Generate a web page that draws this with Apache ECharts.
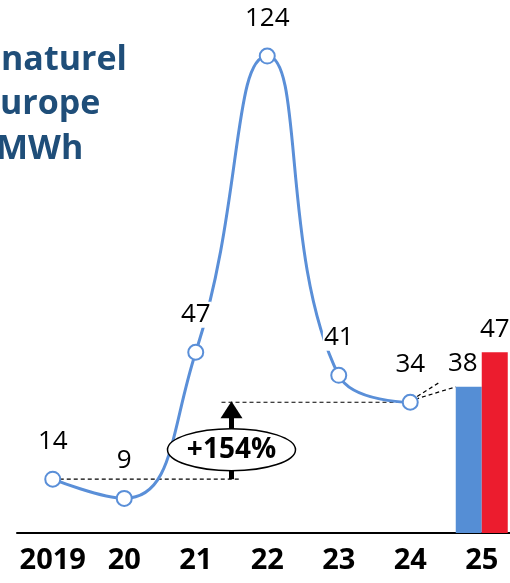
<!DOCTYPE html>
<html>
<head>
<meta charset="utf-8">
<script src="https://cdn.jsdelivr.net/npm/echarts@6/dist/echarts.min.js"></script>
<style>
  html, body { margin: 0; padding: 0; background: #fff; }
  #chart { width: 510px; height: 583px; }
</style>
</head>
<body>
<div id="chart"></div>
<script>
// Prix du gaz naturel en Europe (€/MWh)
const years = ['2019', '20', '21', '22', '23', '24', '25'];
const prices = [14, 9, 47, 124, 41, 34, null];
const forecastLow = [null, null, null, null, null, null, 38];
const forecastHigh = [null, null, null, null, null, null, 47];
const titleLines = ['naturel', 'urope', 'MWh'];
const changeLabel = '+154%';

const lineBlue = '#5a8fd8';
const barBlue = '#558ed5';
const barRed = '#ec1c2e';
const font = '"Open Sans", "Liberation Sans", sans-serif';

const toData = arr => arr.map(v => (v == null ? '-' : v));

const chart = echarts.init(document.getElementById('chart'));

const option = {
	animation: false,
	grid: { left: 17, right: -7.5, top: 33, bottom: 50, outerBoundsMode: 'none', containLabel: false },
	xAxis: {
		type: 'category',
		data: years,
		axisLine: { lineStyle: { color: '#000', width: 2 } },
		axisTick: { show: false },
		axisLabel: {
			interval: 0,
			color: '#000',
			fontFamily: font,
			fontWeight: 'bold',
			fontSize: 29,
			margin: 13
		}
	},
	yAxis: {
		type: 'value',
		min: 0,
		max: 130,
		show: false,
		splitLine: { show: false }
	},
	series: [
		{
			type: 'line',
			data: toData(prices),
			smooth: 0.5,
			symbol: 'circle',
			symbolSize: 15,
			itemStyle: { color: '#fff', borderColor: lineBlue, borderWidth: 2 },
			lineStyle: { color: lineBlue, width: 3 },
			label: {
				show: true,
				position: 'top',
				distance: 16,
				color: '#000',
				fontFamily: font,
				fontSize: 26,
				backgroundColor: '#fff',
				padding: [0, 1]
			},
			z: 3
		},
		{
			type: 'bar',
			data: toData(forecastLow),
			barWidth: 26,
			barGap: '0%',
			itemStyle: { color: barBlue },
			label: {
				show: true,
				position: 'top',
				distance: 10,
				offset: [-6, 0],
				color: '#000',
				fontFamily: font,
				fontSize: 26
			}
		},
		{
			type: 'bar',
			data: toData(forecastHigh),
			barWidth: 26,
			itemStyle: { color: barRed },
			label: {
				show: true,
				position: 'top',
				distance: 10,
				color: '#000',
				fontFamily: font,
				fontSize: 26
			}
		}
	]
};

chart.setOption(option);

// annotations placed from the chart's own scale
const px = (i, v) => chart.convertToPixel({ seriesIndex: 0 }, [i, v]);
const pStart = px(0, prices[0]);
const pEnd = px(5, prices[5]);
const mid2 = px(2, prices[0]);
const mid3 = px(3, prices[0]);
const ax = (mid2[0] + mid3[0]) / 2;
const yLow = pStart[1];
const yHigh = pEnd[1];
const pBar = chart.convertToPixel({ seriesIndex: 1 }, [6, forecastLow[6]]);

const dash = { stroke: '#000', lineWidth: 1.2, lineDash: [4, 3] };
const ellCy = (yLow + yHigh) / 2 + 9;

const graphic = [];

titleLines.forEach((t, k) => {
	graphic.push({
		type: 'text',
		x: [1, 0, -4][k],
		y: 60 + k * 44.5,
		style: {
			text: t,
			font: 'bold 34px ' + font,
			fill: '#1f4e79',
			verticalAlign: 'middle'
		}
	});
});

graphic.push(
	{ type: 'line', shape: { x1: pStart[0], y1: yLow, x2: ax + 8, y2: yLow }, style: dash, z: 1 },
	{ type: 'line', shape: { x1: ax - 10, y1: yHigh, x2: pEnd[0], y2: yHigh }, style: dash, z: 1 },
	{ type: 'line', shape: { x1: pEnd[0] + 1, y1: yHigh - 2, x2: pBar[0] - 43, y2: pBar[1] - 4 }, style: dash, z: 1 },
	{ type: 'line', shape: { x1: pEnd[0] + 5, y1: yHigh - 3, x2: pBar[0] - 26, y2: pBar[1] }, style: dash, z: 1 },
	{ type: 'line', shape: { x1: ax, y1: yLow, x2: ax, y2: yHigh + 14 }, style: { stroke: '#000', lineWidth: 5 }, z: 5 },
	{ type: 'polygon', shape: { points: [[ax, yHigh - 1], [ax - 11, yHigh + 16], [ax + 11, yHigh + 16]] }, style: { fill: '#000' }, z: 5 },
	{ type: 'ellipse', shape: { cx: ax, cy: ellCy, rx: 64, ry: 21 }, style: { fill: '#fff', stroke: '#000', lineWidth: 1.5 }, z: 6 },
	{
		type: 'text',
		x: ax,
		y: ellCy,
		style: {
			text: changeLabel,
			font: 'bold 28px ' + font,
			fill: '#000',
			align: 'center',
			verticalAlign: 'middle'
		},
		z: 7
	}
);

chart.setOption({ graphic: graphic });
</script>
</body>
</html>
